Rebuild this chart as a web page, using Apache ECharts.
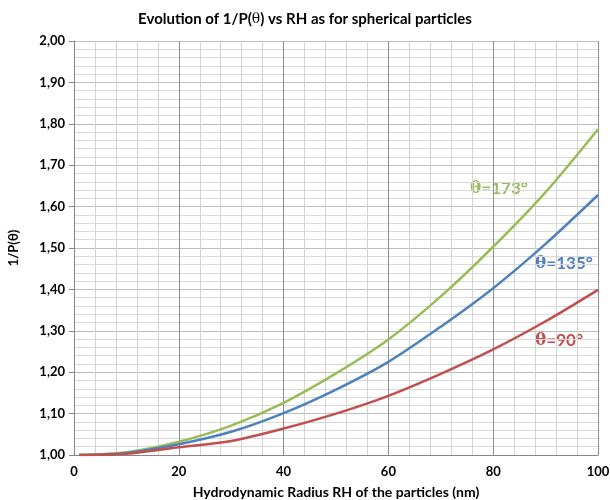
<!DOCTYPE html>
<html>
<head>
<meta charset="utf-8">
<script src="https://cdn.jsdelivr.net/npm/echarts@6/dist/echarts.min.js"></script>
<style>
  html, body { margin: 0; padding: 0; background: #fff; }
  #main { width: 610px; height: 500px; }
</style>
</head>
<body>
<div id="main"></div>
<script>
// 粒径 RH (nm)
var radius = [1, 10, 20, 30, 40, 50, 60, 70, 80, 90, 100];
// 1/P(θ) 三个角度
var theta173 = [1.000, 1.0065, 1.032, 1.071, 1.126, 1.197, 1.279, 1.383, 1.503, 1.635, 1.787];
var theta135 = [1.000, 1.005, 1.026, 1.056, 1.101, 1.158, 1.225, 1.310, 1.403, 1.510, 1.628];
var theta90 = [1.000, 1.003, 1.0186, 1.034, 1.064, 1.100, 1.143, 1.196, 1.255, 1.323, 1.399];

function pairs(ys) {
  var out = [];
  for (var i = 0; i < radius.length; i++) {
    out.push([radius[i], ys[i]]);
  }
  return out;
}

var chart = echarts.init(document.getElementById('main'));
var font = 'Lato, "Open Sans", sans-serif';
var serif = '"DejaVu Serif", "Liberation Serif", serif';

// 角度标注（θ 用衬线字体）
function angleLabel(txt, color, left, top) {
  return {
    type: 'text', left: left, top: top,
    style: {
      text: '{t|θ}{n|' + txt + '}',
      rich: {
        t: { fontFamily: serif, fontSize: 17, fontWeight: 'bold', fill: color },
        n: { fontFamily: font, fontSize: 17, fontWeight: 'bold', fill: color }
      }
    }
  };
}

var option = {
  animation: false,
  title: {
    text: 'Evolution of 1/P({t|θ}) vs RH as for spherical particles',
    left: 'center',
    top: 7,
    textStyle: {
      fontFamily: font, fontSize: 15, fontWeight: 'bold', color: '#000',
      rich: { t: { fontFamily: serif, fontSize: 14, fontWeight: 'normal', color: '#000' } }
    }
  },
  grid: { left: 74, right: 12, top: 41, bottom: 45, outerBoundsMode: 'none', containLabel: false },
  xAxis: {
    type: 'value',
    min: 0,
    max: 100,
    interval: 20,
    name: 'Hydrodynamic Radius RH of the particles (nm)',
    nameLocation: 'middle',
    nameGap: 30,
    nameTextStyle: { fontFamily: font, fontSize: 14, fontWeight: 'bold', color: '#000' },
    axisLine: { lineStyle: { color: '#868686' } },
    axisTick: { show: false },
    axisLabel: { fontFamily: font, fontSize: 13, fontWeight: 'bold', color: '#000', margin: 10 },
    splitLine: { show: true, lineStyle: { color: '#8f8f8f', width: 1 } },
    minorTick: { show: false, splitNumber: 5 },
    minorSplitLine: { show: true, lineStyle: { color: '#d4d4d4', width: 1 } }
  },
  yAxis: {
    type: 'value',
    min: 1,
    max: 2,
    interval: 0.1,
    name: '1/P(θ)',
    nameLocation: 'middle',
    nameGap: 54,
    nameTextStyle: { fontFamily: font, fontSize: 13, fontWeight: 'bold', color: '#000' },
    axisLine: { show: true, lineStyle: { color: '#868686' } },
    axisTick: { show: true, length: 5, lineStyle: { color: '#868686' } },
    axisLabel: {
      fontFamily: font, fontSize: 13, fontWeight: 'bold', color: '#000', margin: 9,
      formatter: function (v) { return v.toFixed(2).replace('.', ','); }
    },
    splitLine: { show: true, lineStyle: { color: '#bdbdbd', width: 1 } },
    minorTick: { show: false, splitNumber: 5 },
    minorSplitLine: { show: true, lineStyle: { color: '#d9d9d9', width: 1 } }
  },
  series: [
    {
      name: 'θ=173°', type: 'line', data: pairs(theta173), smooth: 0.3,
      showSymbol: false, lineStyle: { color: '#9BBB59', width: 2.5 }, itemStyle: { color: '#9BBB59' }
    },
    {
      name: 'θ=135°', type: 'line', data: pairs(theta135), smooth: 0.3,
      showSymbol: false, lineStyle: { color: '#4F81BD', width: 2.5 }, itemStyle: { color: '#4F81BD' }
    },
    {
      name: 'θ=90°', type: 'line', data: pairs(theta90), smooth: 0.3,
      showSymbol: false, lineStyle: { color: '#C0504D', width: 2.5 }, itemStyle: { color: '#C0504D' }
    }
  ],
  graphic: [
    angleLabel('=173°', '#9BBB59', 470, 180),
    angleLabel('=135°', '#4F81BD', 535, 255),
    angleLabel('=90°', '#C0504D', 535, 332)
  ]
};

chart.setOption(option);
</script>
</body>
</html>
